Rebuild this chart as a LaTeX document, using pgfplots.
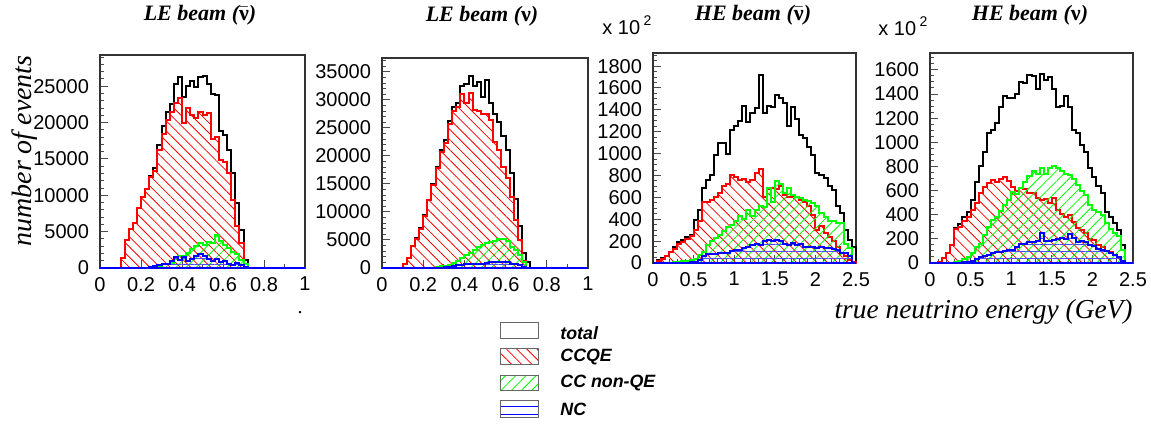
\documentclass[border=0pt]{standalone}
\usepackage{fontspec}
\setmainfont{Liberation Serif}
\setsansfont{Liberation Sans}
\usepackage{pgfplots}
\pgfplotsset{compat=1.18}
\usepackage{pgfplotstable}
\usetikzlibrary{patterns.meta}

% LE beam, antineutrino (bin width 0.02, events per bin)
\pgfplotstableread{
x tot qe nqe nc
0.00 0 0 0 0
0.02 0 0 0 0
0.04 0 0 0 0
0.06 0 0 0 0
0.08 0 0 0 0
0.10 1400 1400 0 0
0.12 3900 3900 0 0
0.14 5300 5300 0 0
0.16 6200 6200 0 0
0.18 8200 8200 0 0
0.20 9700 9700 0 0
0.22 10900 10800 0 50
0.24 12700 12500 0 200
0.26 13700 13300 100 300
0.28 16900 16200 300 400
0.30 19600 18500 550 500
0.32 21500 20300 600 600
0.34 22600 21500 700 1000
0.36 25300 22700 1200 1500
0.38 26300 23400 1600 1100
0.40 23500 20000 1700 1500
0.42 25100 22000 2100 1000
0.44 25700 21000 2600 1200
0.46 24900 20600 3000 1600
0.48 26300 21500 3400 1900
0.50 26400 21000 3200 1600
0.52 25300 21300 3600 1300
0.54 24000 17800 3400 900
0.56 23800 18000 4600 1200
0.58 18900 14800 3700 800
0.60 18300 14600 3200 1000
0.62 16300 13000 2700 600
0.64 13000 9300 2200 400
0.66 8900 5800 1900 700
0.68 5200 3400 1100 400
0.70 1100 0 500 200
0.72 0 0 0 0
0.74 0 0 0 0
0.76 0 0 0 0
0.78 0 0 0 0
0.80 0 0 0 0
0.82 0 0 0 0
0.84 0 0 0 0
0.86 0 0 0 0
0.88 0 0 0 0
0.90 0 0 0 0
0.92 0 0 0 0
0.94 0 0 0 0
0.96 0 0 0 0
0.98 0 0 0 0
1.00 0 0 0 0
}\leanu

% LE beam, neutrino
\pgfplotstableread{
x tot qe nqe nc
0.00 0 0 0 0
0.02 0 0 0 0
0.04 0 0 0 0
0.06 0 0 0 0
0.08 0 0 0 0
0.10 800 800 0 0
0.12 1700 1700 0 0
0.14 4000 4000 0 0
0.16 5300 5200 0 0
0.18 7100 7000 0 0
0.20 9400 9300 0 0
0.22 12200 12100 0 0
0.24 15000 14800 0 0
0.26 18100 17800 100 0
0.28 21000 20700 300 50
0.30 22800 22300 400 150
0.32 26200 25700 600 250
0.34 28800 28000 900 350
0.36 29500 28800 1300 450
0.38 32500 31000 1700 600
0.40 32800 29400 2300 750
0.42 34300 31200 2700 800
0.44 32500 28300 3200 800
0.46 33200 28000 3700 750
0.48 30500 27500 4100 800
0.50 33600 27500 4500 900
0.52 29500 26500 4600 1000
0.54 27500 22500 4900 1100
0.56 26000 21000 5200 1100
0.58 23500 18000 5200 1150
0.60 21000 16000 4800 1000
0.62 17000 12700 3700 800
0.64 12300 8500 3300 700
0.66 7500 5000 2300 450
0.68 2600 1200 1100 200
0.70 1000 0 0 0
0.72 0 0 0 0
0.74 0 0 0 0
0.76 0 0 0 0
0.78 0 0 0 0
0.80 0 0 0 0
0.82 0 0 0 0
0.84 0 0 0 0
0.86 0 0 0 0
0.88 0 0 0 0
0.90 0 0 0 0
0.92 0 0 0 0
0.94 0 0 0 0
0.96 0 0 0 0
0.98 0 0 0 0
1.00 0 0 0 0
}\lenu

% HE beam, antineutrino (bin width 0.05, x 10^2 events)
\pgfplotstableread{
x tot qe nqe nc
0.00 0 0 0 0
0.05 30 20 0 0
0.10 45 40 0 0
0.15 60 60 0 0
0.20 100 100 0 0
0.25 150 130 5 0
0.30 190 170 10 0
0.35 210 190 15 0
0.40 240 220 20 0
0.45 260 250 30 5
0.50 395 300 40 10
0.55 486 380 70 30
0.60 684 560 100 60
0.65 760 560 160 80
0.70 805 580 200 85
0.75 988 600 230 85
0.80 1094 640 260 90
0.85 1100 700 290 90
0.90 1000 720 330 95
0.95 1220 800 350 110
1.00 1250 790 380 120
1.05 1300 760 430 120
1.10 1435 770 400 140
1.15 1290 740 480 150
1.20 1370 760 430 160
1.25 1420 820 480 170
1.30 1720 860 520 165
1.35 1370 600 510 200
1.40 1435 680 690 210
1.45 1430 690 560 200
1.50 1535 680 750 210
1.55 1510 700 720 200
1.60 1460 620 640 170
1.65 1250 600 690 165
1.70 1430 610 620 180
1.75 1320 600 600 160
1.80 1170 580 590 170
1.85 1140 560 580 150
1.90 1064 520 570 145
1.95 988 440 550 150
2.00 820 300 520 140
2.05 805 335 460 150
2.10 775 275 420 140
2.15 700 240 380 135
2.20 669 200 380 130
2.25 517 150 370 120
2.30 456 90 370 90
2.35 304 60 170 90
2.40 213 30 135 60
2.45 150 10 0 0
2.50 0 0 0 0
}\heanu

% HE beam, neutrino
\pgfplotstableread{
x tot qe nqe nc
0.00 0 0 0 0
0.05 0 0 0 0
0.10 10 10 0 0
0.15 40 40 0 0
0.20 80 80 0 0
0.25 150 150 0 0
0.30 290 280 10 0
0.35 320 300 20 0
0.40 380 350 30 5
0.45 420 380 50 10
0.50 520 440 80 20
0.55 675 500 130 30
0.60 800 580 160 50
0.65 920 630 230 60
0.70 1075 660 300 70
0.75 1100 690 360 80
0.80 1160 670 380 90
0.85 1295 700 430 90
0.90 1380 710 480 100
0.95 1365 680 520 110
1.00 1365 630 590 110
1.05 1400 600 570 130
1.10 1500 620 620 160
1.15 1490 610 670 160
1.20 1555 580 720 170
1.25 1550 580 760 170
1.30 1445 540 740 180
1.35 1565 520 790 250
1.40 1520 530 740 180
1.45 1540 500 790 180
1.50 1440 540 800 190
1.55 1295 440 790 200
1.60 1300 410 760 210
1.65 1380 380 740 200
1.70 1295 400 730 240
1.75 1100 340 700 210
1.80 1075 290 650 170
1.85 980 270 600 180
1.90 920 250 560 170
1.95 785 200 480 150
2.00 715 190 440 140
2.05 635 150 420 120
2.10 580 130 400 110
2.15 420 100 330 100
2.20 380 90 280 80
2.25 330 70 250 70
2.30 270 40 220 50
2.35 150 20 110 20
2.40 0 0 0 0
2.45 0 0 0 0
2.50 0 0 0 0
}\henu

\pgfplotsset{
  rootaxis/.style={
    scale only axis, clip=false,
    axis line style={black!80, line width=0.6pt},
    xtick pos=bottom, ytick pos=left, tick align=inside,
    major tick length=4pt, minor tick length=2pt,
    tick style={black!70, line width=0.5pt},
    ticklabel style={font=\fontsize{10}{11}\selectfont\sffamily},
    yticklabel style={xshift=-2pt},
    xticklabel style={yshift=-1pt},
    /pgf/number format/assume math mode=true,
    /pgf/number format/1000 sep={},
    scaled ticks=false,
    xmin=0, ymin=0,
  },
  tot/.style={const plot, black, line width=1pt, mark=none},
  qe/.style={const plot, red, line width=1pt, mark=none,
    pattern={Lines[angle=-45,distance=3.6pt,line width=0.4pt]}, pattern color=red},
  nqe/.style={const plot, green, line width=1pt, mark=none,
    pattern={Lines[angle=45,distance=3.6pt,line width=0.4pt]}, pattern color=green},
  nc/.style={const plot, blue, line width=1pt, mark=none,
    pattern={Lines[angle=0,distance=3.3pt,line width=0.4pt]}, pattern color=blue!70},
}

\newcommand{\ttl}[1]{\fontsize{11}{13}\selectfont\bfseries\itshape #1}
\newcommand{\lgd}{\fontsize{8.9}{10}\selectfont\sffamily\bfseries\itshape}
\newcommand{\scl}{\fontsize{10}{11}\selectfont\sffamily x 10\,\raisebox{0.9ex}{\fontsize{7}{8}\selectfont 2}}

\begin{document}
\begin{tikzpicture}
\path[use as bounding box] (0,0) rectangle (575.5pt,211.5pt);

\begin{axis}[rootaxis, at={(50pt,77.5pt)}, anchor=south west,
  width=102.5pt, height=106.5pt, xmax=1, ymax=29300,
  xtick={0,0.2,0.4,0.6,0.8,1}, minor xtick={0.1,0.3,0.5,0.7,0.9},
  ytick={0,5000,10000,15000,20000,25000},
  minor ytick={1000,2000,...,29000}]
\addplot[tot] table[x=x,y=tot]{\leanu};
\addplot[qe] table[x=x,y=qe]{\leanu} \closedcycle;
\addplot[nqe] table[x=x,y=nqe]{\leanu} \closedcycle;
\addplot[nc] table[x=x,y=nc]{\leanu} \closedcycle;
\end{axis}

\begin{axis}[rootaxis, at={(191pt,77.5pt)}, anchor=south west,
  width=103pt, height=105pt, xmax=1, ymax=37500,
  xtick={0,0.2,0.4,0.6,0.8,1}, minor xtick={0.1,0.3,0.5,0.7,0.9},
  ytick={0,5000,10000,15000,20000,25000,30000,35000},
  minor ytick={1000,2000,...,37000}]
\addplot[tot] table[x=x,y=tot]{\lenu};
\addplot[qe] table[x=x,y=qe]{\lenu} \closedcycle;
\addplot[nqe] table[x=x,y=nqe]{\lenu} \closedcycle;
\addplot[nc] table[x=x,y=nc]{\lenu} \closedcycle;
\end{axis}

\begin{axis}[rootaxis, at={(326.5pt,80pt)}, anchor=south west,
  width=101.5pt, height=105pt, xmax=2.5, ymax=1920,
  xtick={0,0.5,1,1.5,2,2.5}, minor x tick num=4,
  ytick={0,200,...,1800}, minor ytick={50,100,...,1900}]
\addplot[tot] table[x=x,y=tot]{\heanu};
\addplot[qe] table[x=x,y=qe]{\heanu} \closedcycle;
\addplot[nqe] table[x=x,y=nqe]{\heanu} \closedcycle;
\addplot[nc] table[x=x,y=nc]{\heanu} \closedcycle;
\end{axis}

\begin{axis}[rootaxis, at={(465pt,80pt)}, anchor=south west,
  width=101.5pt, height=105pt, xmax=2.5, ymax=1740,
  xtick={0,0.5,1,1.5,2,2.5}, minor x tick num=4,
  ytick={0,200,...,1600}, minor ytick={50,100,...,1700}]
\addplot[tot] table[x=x,y=tot]{\henu};
\addplot[qe] table[x=x,y=qe]{\henu} \closedcycle;
\addplot[nqe] table[x=x,y=nqe]{\henu} \closedcycle;
\addplot[nc] table[x=x,y=nc]{\henu} \closedcycle;
\end{axis}

% titles and axis texts
\node at (100pt,204pt) {\ttl{LE beam ({\upshape$\bar{\hbox{ν}}$})}};
\node at (241pt,203.5pt) {\ttl{LE beam ({\upshape ν})}};
\node at (376.5pt,204pt) {\ttl{HE beam ({\upshape$\bar{\hbox{ν}}$})}};
\node at (515pt,204pt) {\ttl{HE beam ({\upshape ν})}};
\node[anchor=west, inner sep=0pt] at (301pt,199pt) {\scl};
\node[anchor=west, inner sep=0pt] at (439pt,198.5pt) {\scl};
\node[rotate=90] at (12.5pt,136pt) {\fontsize{14}{16}\selectfont\itshape number of events};
\node[anchor=east, inner sep=0pt] at (566.5pt,55.5pt) {\fontsize{13.7}{16}\selectfont\itshape true neutrino energy (GeV)};
\node at (150pt,55pt) {.};

% legend
\draw[black!60, line width=0.5pt] (250.3pt,42pt) rectangle (269.2pt,50pt);
\draw[black!60, line width=0.5pt, pattern={Lines[angle=-45,distance=3.6pt,line width=0.4pt]}, pattern color=red]
  (250.3pt,29pt) rectangle (269.2pt,37pt);
\draw[black!60, line width=0.5pt, pattern={Lines[angle=45,distance=3.6pt,line width=0.4pt]}, pattern color=green]
  (250.3pt,16pt) rectangle (269.2pt,23.5pt);
\draw[black!60, line width=0.5pt] (250.3pt,3pt) rectangle (269.2pt,11pt);
\draw[blue, line width=0.5pt] (250.3pt,4.5pt) -- (269.2pt,4.5pt) (250.3pt,8.5pt) -- (269.2pt,8.5pt);
\node[anchor=west, inner sep=0pt] at (280pt,45pt) {\lgd total};
\node[anchor=west, inner sep=0pt] at (280pt,33pt) {\lgd CCQE};
\node[anchor=west, inner sep=0pt] at (280pt,20pt) {\lgd CC non-QE};
\node[anchor=west, inner sep=0pt] at (280pt,7pt) {\lgd NC};
\end{tikzpicture}
\end{document}
